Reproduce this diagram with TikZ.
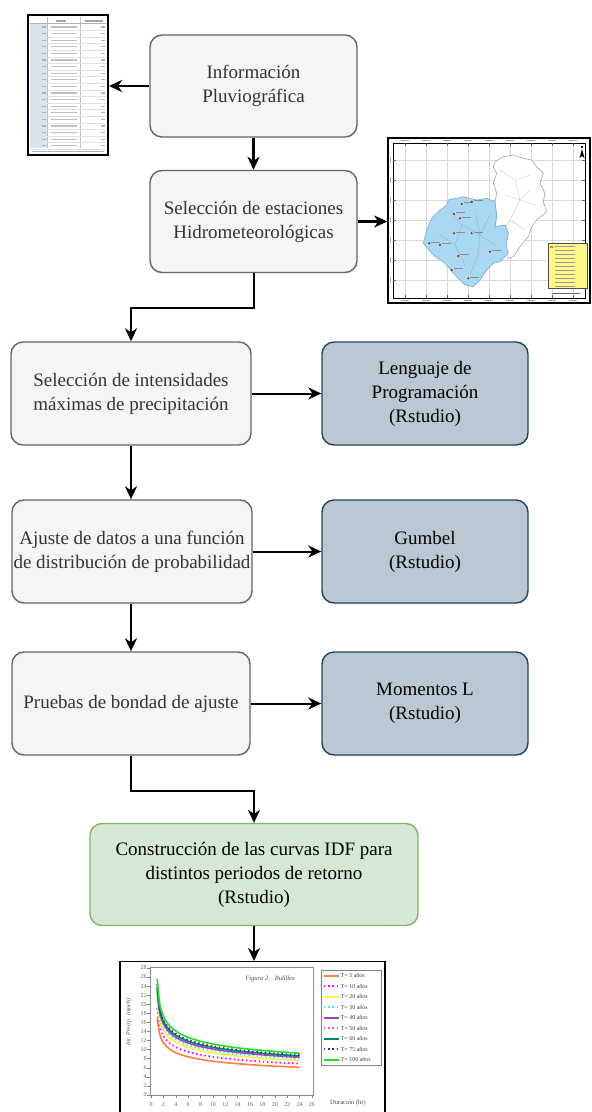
\documentclass[tikz,border=0pt]{standalone}
\usepackage{fontspec}
\setmainfont{Liberation Serif}
\usetikzlibrary{arrows.meta}
\definecolor{gfill}{HTML}{F5F5F5}
\definecolor{gdraw}{HTML}{666666}
\definecolor{gtext}{HTML}{333333}
\definecolor{bfill}{HTML}{BAC8D3}
\definecolor{bdraw}{HTML}{23445D}
\definecolor{grfill}{HTML}{D5E8D4}
\definecolor{grdraw}{HTML}{82B366}
\definecolor{mapblue}{HTML}{A8D8F2}
\definecolor{mapedge}{HTML}{6FA8D0}
\definecolor{cOr}{HTML}{FF8040}
\definecolor{cMa}{HTML}{FF00FF}
\definecolor{cYe}{HTML}{F8F840}
\definecolor{cCy}{HTML}{40F0F0}
\definecolor{cPu}{HTML}{A040C0}
\definecolor{cPi}{HTML}{FF6080}
\definecolor{cTe}{HTML}{008080}
\definecolor{cNa}{HTML}{303090}
\definecolor{cGr}{HTML}{20E020}
\definecolor{tblue}{HTML}{D8E4F0}
\begin{document}
\begin{tikzpicture}[x=1pt,y=-1pt,
  box/.style={rounded corners=12pt, line width=1.4pt, align=center,
    font=\fontsize{19}{24}\selectfont, inner sep=0pt,
    minimum width=207pt, minimum height=102pt},
  graybox/.style={box, fill=gfill, draw=gdraw, text=gtext},
  bluebox/.style={box, fill=bfill, draw=bdraw, text=black},
  greenbox/.style={box, fill=grfill, draw=grdraw, text=black},
  arr/.style={-{Stealth[length=13pt,width=12pt,inset=4pt]}, line width=2pt, black},
  thickarr/.style={arr, line width=2.4pt},
  pic/.style={inner sep=0pt, fill=white, draw=black},
  tick/.style={font=\fontsize{6}{7}\selectfont, text=black!60, inner sep=0.5pt},
  leg/.style={font=\fontsize{6}{7}\selectfont, text=black!75, inner sep=0pt, anchor=west},
  solidc/.style={line width=1.6pt},
  dotc/.style={line width=1.8pt, dash pattern=on 1.4pt off 2.8pt}
]
\useasboundingbox (0,0) rectangle (592,1112);
\clip (0,0) rectangle (592,1112);
\fill[white] (0,0) rectangle (592,1112);

% ---------- main boxes ----------
\node[graybox] (info) at (253.5,86) {Información\\Pluviográfica};
\node[graybox] (sel) at (253.5,221.5) {Selección de estaciones\\Hidrometeorológicas};
\node[graybox, minimum width=240pt, minimum height=103pt] (inten) at (131,393.5) {Selección de intensidades\\máximas de precipitación};
\node[bluebox, minimum width=206pt, minimum height=103pt] (leng) at (425,393.5) {Lenguaje de\\Programación\\(Rstudio)};
\node[graybox, minimum width=240pt, minimum height=103pt] (ajus) at (132,551.5) {Ajuste de datos a una función\\de distribución de probabilidad};
\node[bluebox, minimum width=206pt, minimum height=103pt] (gumb) at (425,551.5) {Gumbel\\(Rstudio)};
\node[graybox, minimum width=238pt, minimum height=103pt] (prue) at (131,703.5) {Pruebas de bondad de ajuste};
\node[bluebox, minimum width=206pt, minimum height=103pt] (mom) at (425,703.5) {Momentos L\\(Rstudio)};
\node[greenbox, minimum width=328pt, minimum height=102pt] (idf) at (254,874.5) {Construcción de las curvas IDF para\\distintos periodos de retorno\\(Rstudio)};

% ---------- picture frames ----------
\node[pic, line width=2pt, minimum width=80pt, minimum height=140pt] (tbl) at (68,85) {};
\node[pic, line width=1.6pt, minimum width=202pt, minimum height=165pt] (map) at (489,220.5) {};
\node[pic, line width=1.3pt, minimum width=265pt, minimum height=175pt, anchor=north] (chart) at (252.5,961) {};

% ---------- table contents ----------
\fill[tblue] (30,24) rectangle (47,148);
\draw[black!25, line width=0.4pt] (47,17) -- (47,148) (80,17) -- (80,148);
\fill[black!35] (56,20.3) rectangle ++(10,1.2);
\fill[black!35] (85,20.3) rectangle ++(18,1.2);
\draw[black!30, line width=0.4pt] (30,23.5) -- (106,23.5);
\foreach \i in {0,...,18}{
  \pgfmathsetmacro\yy{27+6.6*\i}
  \fill[black!30] (42,\yy) ++(0,-0.6) rectangle ++(4,1.2);
  \fill[black!25] (51,\yy) ++(0,-0.6) rectangle ++(26,1.2);
  \fill[black!30] (101,\yy) ++(0,-0.6) rectangle ++(4,1.2);
  \draw[black!12, line width=0.3pt] (30,\yy) ++(0,3.3) -- ++(76,0);
}
\fill[black!30] (32,151.3) rectangle ++(72,1.1);

% ---------- map contents ----------
\draw[line width=0.6pt] (393,143) rectangle (585,298);
\foreach \gx in {405,426,...,575}{
  \draw[black!15, line width=0.4pt] (\gx,143) -- (\gx,298);
  \draw[black!60, line width=0.4pt] (\gx,143) -- (\gx,146) (\gx,298) -- (\gx,295);
  \fill[black!35] (\gx,140.1) ++(-4,0) rectangle ++(8,1);
  \fill[black!35] (\gx,300.4) ++(-4,0) rectangle ++(8,1);
}
\foreach \gy in {160,180,...,290}{
  \draw[black!15, line width=0.4pt] (393,\gy) -- (585,\gy);
  \draw[black!60, line width=0.4pt] (393,\gy) -- (396,\gy) (585,\gy) -- (582,\gy);
  \fill[black!35] (389.6,\gy) ++(0,-3) rectangle ++(1,6);
}
% white basin
\draw[black!40, fill=white, line width=0.5pt]
  (495,161.7) -- (503.3,156.7) -- (513.3,155) -- (523.3,158.3) -- (531.7,160) -- (536.7,166.7)
  -- (543.3,173.3) -- (540,183.3) -- (545,193.3) -- (543.3,201.7) -- (546.7,211.7) -- (536.7,220)
  -- (531.7,226.7) -- (528.3,236.7) -- (520,246.7) -- (513.3,256.7) -- (508.3,258.3) -- (506,245)
  -- (508.3,233.3) -- (505,225) -- (495,226.7) -- (496.7,216.7) -- (495,201.7) -- (496.7,193.3)
  -- (493.3,183.3) -- (496.7,173.3) -- (493.3,166.7) -- cycle;
\draw[black!25, line width=0.3pt] (500,170) -- (515,180) -- (530,175) (515,180) -- (520,200) -- (535,205)
  (520,200) -- (510,220) -- (525,230) (510,220) -- (500,235) (505,195) -- (520,200) (530,190) -- (520,200);
% blue basin
\draw[mapedge, fill=mapblue, line width=0.5pt]
  (448.3,200) -- (463.3,196.7) -- (476.7,200) -- (486.7,198.3) -- (495,201.7) -- (496.7,216.7)
  -- (495,226.7) -- (505,225) -- (508.3,233.3) -- (506,245) -- (508.3,253.3) -- (500,261.7)
  -- (493.3,263.3) -- (486.7,270) -- (480,280) -- (473.3,286.7) -- (465,285) -- (453.3,273.3)
  -- (445,263.3) -- (433.3,255) -- (423.3,243.3) -- (426.7,230) -- (431.7,218.3) -- (440,210)
  -- (446.7,205) -- cycle;
\draw[mapedge!70!black!60, line width=0.3pt] (450,210) -- (462,225) -- (480,235) -- (495,245)
  (462,225) -- (455,245) -- (465,265) (480,235) -- (478,255) -- (470,275) (440,235) -- (455,245)
  (475,210) -- (480,235) (490,215) -- (480,235);
\foreach \px/\py in {454/214, 460/218.3, 461.7/204, 471.7/201.7, 454/233.3, 471.7/233.3,
  429.3/243.3, 440/245, 458.3/256, 490/251.7, 451.7/270, 468.3/278.3}{
  \fill[red!75!black] (\px,\py) circle (1.1pt);
  \fill[black!45] (\px,\py) ++(2,-1.8) rectangle ++(9,0.8);
}
% legend of map
\draw[black!70, fill=yellow!45, line width=0.5pt] (548,243) rectangle (587,288);
\fill[orange] (550,245.5) rectangle ++(3,2);
\foreach \ly in {246,250,...,286}{ \fill[black!40] (555,\ly) ++(0,-0.4) rectangle ++(20,0.8); }
\fill[black!60] (552,292.5) rectangle ++(28,1.2);
% north arrow
\fill[black] (582,149) -- (584.5,158) -- (582,156) -- (579.5,158) -- cycle;
\fill[black] (581.4,146) rectangle ++(1.2,2);

% ---------- chart contents ----------
\draw[black!45, line width=0.5pt] (150,967) rectangle (313,1095);
\begin{scope}[shift={(151,1095)}, x=6.19pt, y=4.54pt]
  \foreach \t in {0,2,...,26}{
    \draw[black!50, line width=0.4pt] (\t,0) -- (\t,-0.6);
    \node[tick, anchor=north] at (\t,-1.4) {\t};
  }
  \foreach \v in {0,2,...,28}{
    \draw[black!50, line width=0.4pt] (-0.15,\v) -- (-0.6,\v);
    \node[tick, anchor=east] at (-0.6,\v) {\v};
  }
  \foreach \k/\c/\s in {6.1/cOr/solidc, 6.9/cMa/dotc, 7.6/cYe/solidc, 8.0/cCy/dotc, 8.3/cPu/solidc,
    8.5/cPi/dotc, 8.6/cTe/solidc, 8.8/cNa/dotc, 9.2/cGr/solidc}{
    \draw[\c, \s] plot[domain=1:24, samples=60, smooth] (\x, {\k*1.966*(\x-0.8)^(-0.215)});
  }
\end{scope}
\node[font=\fontsize{6}{7}\selectfont\itshape, text=black!70, inner sep=0, rotate=90] at (129,1022) {Int. Precip. (mm/h)};
\node[font=\fontsize{6.5}{7}\selectfont\itshape, text=black!70, inner sep=0] at (270,979) {Figura 2\quad Bulilles};
\node[font=\fontsize{6.5}{7}\selectfont, text=black!70, inner sep=0] at (348,1103) {Duración (hr)};
% chart legend
\draw[black!50, fill=white, line width=0.5pt] (321,970) rectangle (381,1065);
\foreach \n/\c/\s [count=\j from 0] in {5/cOr/solidc, 10/cMa/dotc, 20/cYe/solidc, 30/cCy/dotc, 40/cPu/solidc,
  50/cPi/dotc, 60/cTe/solidc, 75/cNa/dotc, 100/cGr/solidc}{
  \pgfmathsetmacro\ly{975.5+10.5*\j}
  \draw[\c, \s, line width=2pt] (324,\ly) -- (339,\ly);
  \node[leg] at (340.5,\ly) {T= \n{} años};
}

% ---------- connectors ----------
\draw[thickarr] (info.west) -- (info.west -| tbl.east);
\draw[thickarr] (info.south) -- (sel.north);
\draw[thickarr] (sel.east) -- (sel.east -| map.west);
\draw[arr] (sel.south) -- ++(0,35) -| (inten.north);
\draw[arr] (inten.east) -- (leng.west);
\draw[arr] (inten.south) -- (inten.south |- ajus.north);
\draw[arr] (ajus.east) -- (ajus.east -| gumb.west);
\draw[arr] (ajus.south -| inten.south) -- (prue.north);
\draw[arr] (prue.east) -- (mom.west);
\draw[arr] (prue.south) -- ++(0,35) -| (idf.north);
\draw[thickarr] (idf.south) -- (idf.south |- chart.north);
\end{tikzpicture}
\end{document}
